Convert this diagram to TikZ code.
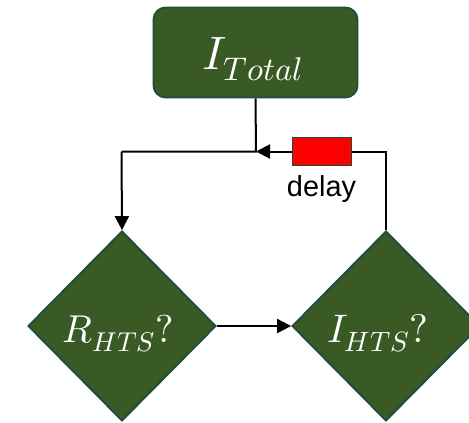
\documentclass[tikz,border=0pt]{standalone}
\usepackage{unicode-math}
\newfontfamily\labelfont{Liberation Sans}
\usetikzlibrary{shapes.geometric,arrows.meta}
\definecolor{boxfill}{HTML}{3A5A25}
\definecolor{boxline}{HTML}{1D4D3C}
\begin{document}
\begin{tikzpicture}[x=1bp,y=-1bp,
  block/.style={draw=boxline,line width=1.8bp,fill=boxfill,text=white,
    rounded corners=12bp,minimum width=204bp,minimum height=90bp,inner sep=0pt},
  decide/.style={diamond,aspect=1,draw=boxline,line width=1.8bp,fill=boxfill,
    minimum width=188bp,minimum height=190bp,inner sep=0pt},
  caption/.style={text=white,inner sep=0pt,anchor=base},
  delaybox/.style={draw=boxline,line width=1.8bp,fill=red,minimum width=59bp,minimum height=28bp,inner sep=0pt},
  link/.style={line width=2bp,black},
  tip/.style={-{Triangle[length=14bp,width=14bp]}}]
\useasboundingbox (0,0) rectangle (469,422);
\node[block] (total) at (255.5,52.5) {};
\node[caption,font=\fontsize{47}{52}\selectfont] (totaltext) at (253,69) {$I_{Total}$};
\node[decide] (rhts) at (122,326) {};
\node[caption,font=\fontsize{39}{44}\selectfont] (rtext) at (118.5,342) {$R_{HTS}?$};
\node[decide] (ihts) at (386,326) {};
\node[caption,font=\fontsize{40}{44}\selectfont] (itext) at (378,342) {$I_{HTS}?$};
\node[delaybox] (delay) at (322,151.5) {};
\node[font=\fontsize{29}{32}\labelfont,inner sep=0pt,anchor=base] (dlabel) at (321.5,196.5) {delay};
\coordinate (join) at (256,151.5);
\coordinate (upleft) at (121.5,151.5);
\coordinate (upright) at (386,151.5);
\draw[link] (total.south) -- (join) -- (upleft);
\draw[link,tip] (upleft) -- (rhts.north);
\draw[link] (ihts.north) -- (upright) -- (delay.east);
\draw[link,tip] (delay.west) -- (join);
\draw[link,tip] (rhts.east) -- (ihts.west);
\end{tikzpicture}
\end{document}
